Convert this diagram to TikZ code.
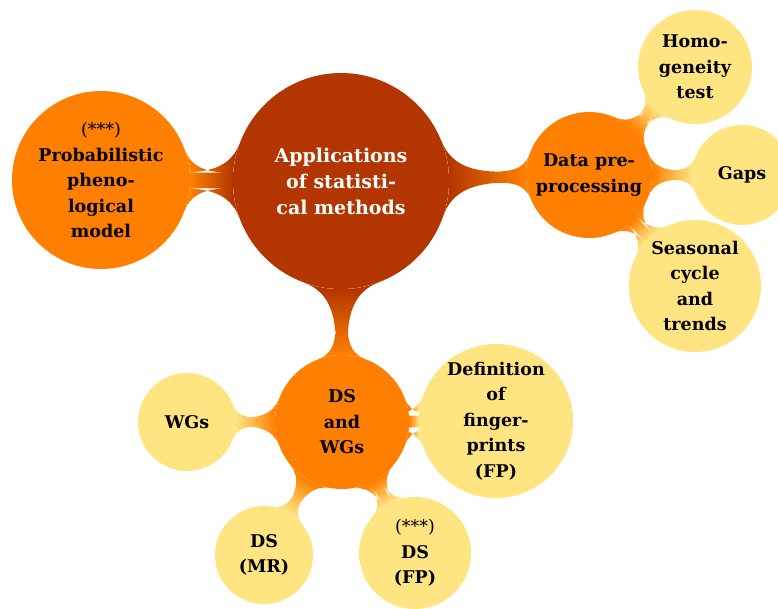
\documentclass[tikz,border=0pt]{standalone}
\usepackage{fontspec}
\setmainfont{DejaVu Serif}
\usetikzlibrary{mindmap,backgrounds}
\definecolor{rootc}{RGB}{179,54,0}
\definecolor{lvone}{RGB}{255,128,0}
\definecolor{lvtwo}{RGB}{255,228,130}
\tikzset{
  bub/.style={circle, inner sep=0pt, align=center, font=\bfseries\fontsize{17.5}{25.5}\selectfont, text=black},
  rootbub/.style={bub, fill=rootc, text=white, font=\bfseries\fontsize{19}{26}\selectfont},
  onebub/.style={bub, fill=lvone},
  twobub/.style={bub, fill=lvtwo},
  bigbar/.style={circle connection bar switch color=from (rootc) to (lvone), line width=14pt},
  smallbar/.style={circle connection bar switch color=from (lvone) to (lvtwo), line width=10pt},
}
\begin{document}
\begin{tikzpicture}[x=1pt,y=-1pt]
\useasboundingbox (0,0) rectangle (778,608);
\node[rootbub, minimum size=216pt] (root) at (341,181) {Applications\\of statisti-\\cal methods};
\node[onebub, minimum size=178pt] (prob) at (101,180) {{\mdseries(***)}\\Probabilistic\\pheno-\\logical\\model};
\node[onebub, minimum size=126pt] (data) at (589,175) {Data pre-\\processing};
\node[onebub, minimum size=134pt] (dswg) at (342,422) {DS\\and\\WGs};
\node[twobub, minimum size=114pt] (homo) at (695,67) {Homo-\\geneity\\test};
\node[twobub, minimum size=100pt] (gaps) at (742,175) {Gaps};
\node[twobub, minimum size=132pt] (seas) at (695,286) {Seasonal\\cycle\\and\\trends};
\node[twobub, minimum size=98pt] (wgs) at (187,422) {WGs};
\node[twobub, minimum size=98pt] (dsmr) at (264,555) {DS\\(MR)};
\node[twobub, minimum size=112pt] (dsfp) at (415,553) {{\mdseries(***)}\\DS\\(FP)};
\node[twobub, minimum size=154pt] (defn) at (496,421) {Definition\\of\\finger-\\prints\\(FP)};
\begin{scope}[on background layer]
\path (root) to[bigbar] (prob);
\path (root) to[bigbar] (data);
\path (root) to[bigbar] (dswg);
\path (data) to[smallbar] (homo);
\path (data) to[smallbar] (gaps);
\path (data) to[smallbar] (seas);
\path (dswg) to[smallbar] (wgs);
\path (dswg) to[smallbar] (dsmr);
\path (dswg) to[smallbar] (dsfp);
\path (dswg) to[smallbar] (defn);
\end{scope}
\end{tikzpicture}
\end{document}
